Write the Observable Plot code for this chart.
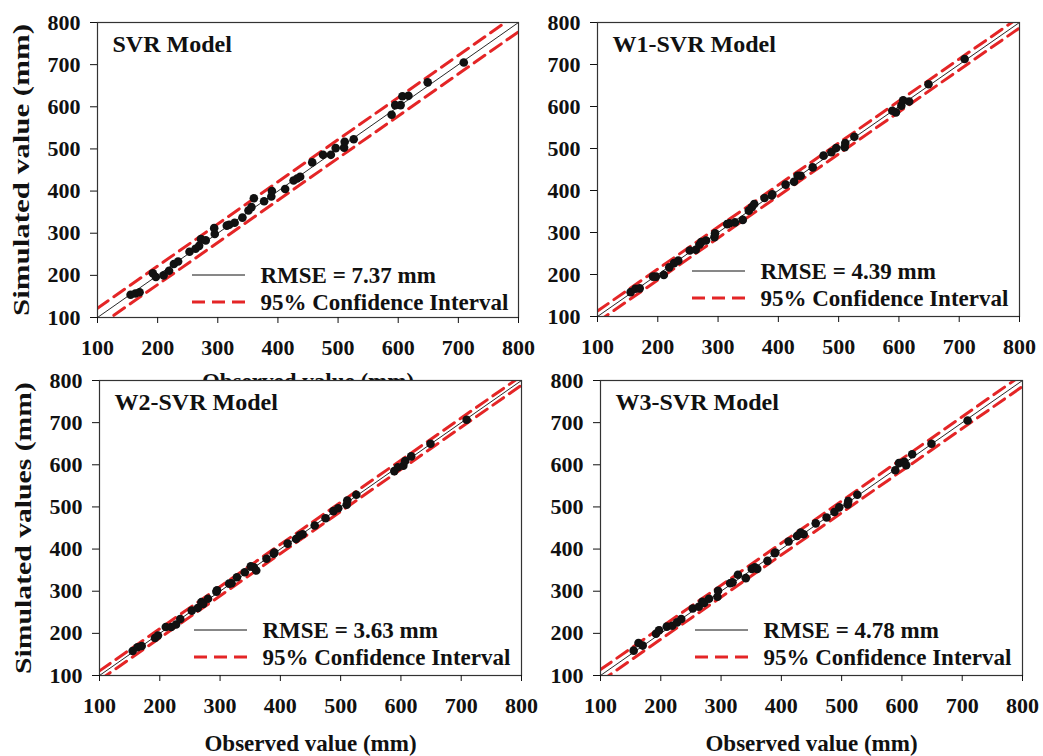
<!DOCTYPE html>
<html>
<head>
<meta charset="utf-8">
<script src="https://cdn.jsdelivr.net/npm/d3@7"></script>
<script src="https://cdn.jsdelivr.net/npm/@observablehq/plot@0.6"></script>
<style>
  html, body { margin: 0; padding: 0; background: white; }
  #chart { position: relative; width: 1043px; height: 756px; overflow: hidden; background: white; }
  #chart svg { position: absolute; overflow: visible; }
  #chart text { font-family: 'Liberation Serif', 'Times New Roman', serif; }
</style>
</head>
<body>
<div id="chart"></div>
<script>
// ---------------- data ----------------
const models = ["SVR Model", "W1-SVR Model", "W2-SVR Model", "W3-SVR Model"];
const rmse = [7.37, 4.39, 3.63, 4.78];
const ciHalfWidth = [22, 13, 11, 14];
const axisTicks = [100, 200, 300, 400, 500, 600, 700, 800];
const yTitles = ["Simulated value (mm)", null, "Simulated values (mm)", null];
const xTitle = "Observed value (mm)";
const legendLine = "RMSE = ";
const legendCI = "95% Confidence Interval";

const observed = [155,163,170,192,197,210,219,227,234,253,263,269,272,280,294,295,315,328,341,351,356,360,377,389,390,412,426,437,457,475,488,496,510,511,526,589,595,604,607,617,649,709,319,432];
const simSVR = [154,157,160,205,196,200,211,227,233,256,263,270,286,283,312,298,318,325,337,354,362,383,376,387,400,405,425,434,468,486,486,502,503,517,523,581,604,604,625,626,658,705,320,430];
const simW1  = [158,166,167,195,195,199,217,227,233,257,259,271,277,281,289,298,320,324,330,352,360,368,382,388,391,414,421,435,455,483,491,501,503,513,528,590,586,602,615,612,653,713,322,435];
const simW2  = [158,167,170,189,195,215,215,221,234,254,260,274,270,282,299,302,318,333,345,359,357,349,377,389,392,413,424,435,456,473,490,497,505,515,529,585,594,598,609,620,650,707,319,432];
const simW3  = [159,177,171,199,207,216,218,226,234,259,263,275,272,282,287,301,319,339,331,353,357,353,372,390,392,418,431,435,461,475,488,499,506,514,529,587,604,607,599,625,650,705,321,439];
const simulated = [simSVR, simW1, simW2, simW3];

// ---------------- layout ----------------
const layout = [
  {left: 0,   top: 0,   width: 521, height: 400, ml: 97, mr: 3,  mt: 22, mb: 83, shift: 3, hiddenX: true},
  {left: 521, top: 0,   width: 522, height: 400, ml: 76, mr: 24, mt: 22, mb: 84, shift: 0, hiddenX: false},
  {left: 0,   top: 360, width: 525, height: 396, ml: 99, mr: 4,  mt: 20, mb: 81, shift: 0, hiddenX: false},
  {left: 525, top: 360, width: 518, height: 396, ml: 75, mr: 21, mt: 20, mb: 81, shift: 0, hiddenX: false}
];
const RED = "#e42526";
const FONT = "'Liberation Serif', 'Times New Roman', serif";

const chart = document.getElementById("chart");

function stretch(svg, label, length) {
  svg.selectAll("text").filter(function () { return this.textContent === label; })
    .each(function () {
      const w = this.getComputedTextLength();
      if (!w) return;
      const t = this.getAttribute("transform") || "";
      this.setAttribute("transform", (t + " scale(" + (length / w) + ",1)").trim());
    });
}

models.forEach((name, i) => {
  const L = layout[i];
  const pts = observed.map((o, k) => ({obs: o, sim: simulated[i][k]}));
  const lineEnds = [axisTicks[0], axisTicks[axisTicks.length - 1]];
  const h = ciHalfWidth[i];
  const bottomPanel = i >= 2;
  const txt = {fontWeight: "bold", fontFamily: FONT, fill: "#111", lineAnchor: "middle"};

  const marks = [];
  if (bottomPanel) marks.push(Plot.frame({fill: "white", stroke: "none"}));
  marks.push(
    Plot.line(lineEnds, {x: d => d, y: d => d + h, stroke: RED, strokeWidth: 3, strokeDasharray: "13,7", clip: true}),
    Plot.line(lineEnds, {x: d => d, y: d => d - h, stroke: RED, strokeWidth: 3, strokeDasharray: "13,7", clip: true}),
    Plot.line(lineEnds, {x: d => d, y: d => d, stroke: "#111", strokeWidth: 0.9, clip: true}),
    Plot.dot(pts, {x: "obs", y: "sim", r: 4.3, fill: "#111", stroke: "none"}),
    Plot.frame({stroke: "#333", strokeWidth: 1.2}),
    Plot.axisX({ticks: axisTicks, tickSize: 6, tickPadding: 16, label: null, tickFormat: d => String(d), fontFamily: FONT}),
    Plot.axisY({ticks: axisTicks, tickSize: 7, tickPadding: 10, label: null, tickFormat: d => String(d), fontFamily: FONT}),
    Plot.text([name], {...txt, text: d => d, frameAnchor: "top-left", dx: 15, dy: 22, textAnchor: "start", fontSize: 24}),
    Plot.text([legendLine + rmse[i].toFixed(2) + " mm"], {...txt, text: d => d, frameAnchor: "bottom-left", dx: 163, dy: -45 + L.shift, textAnchor: "start", fontSize: 23}),
    Plot.text([legendCI], {...txt, text: d => d, frameAnchor: "bottom-left", dx: 163, dy: -18 + L.shift, textAnchor: "start", fontSize: 23})
  );
  if (yTitles[i]) {
    marks.push(Plot.text([yTitles[i]], {...txt, text: d => d, frameAnchor: "left", textAnchor: "middle", dx: -76, rotate: -90, fontSize: 23}));
  }
  if (bottomPanel || L.hiddenX) {
    marks.push(Plot.text([xTitle], {...txt, text: d => d, frameAnchor: "bottom", textAnchor: "middle", dy: bottomPanel ? 68 : 64, fontSize: 23}));
  }

  const plot = Plot.plot({
    width: L.width,
    height: L.height,
    marginLeft: L.ml, marginRight: L.mr, marginTop: L.mt, marginBottom: L.mb,
    x: {domain: lineEnds},
    y: {domain: lineEnds},
    style: {background: "transparent", fontFamily: FONT, fontSize: "22px", fontWeight: "bold", color: "#111", overflow: "visible"},
    marks
  });
  plot.style.left = L.left + "px";
  plot.style.top = L.top + "px";
  chart.appendChild(plot);

  const svg = d3.select(plot);
  if (yTitles[i]) stretch(svg, yTitles[i], 292);

  // legend keys
  const yb = L.height - L.mb;
  svg.append("line")
    .attr("x1", L.ml + 95).attr("x2", L.ml + 148)
    .attr("y1", yb - 45 + L.shift).attr("y2", yb - 45 + L.shift)
    .attr("stroke", "#111").attr("stroke-width", 1);
  svg.append("line")
    .attr("x1", L.ml + 95).attr("x2", L.ml + 148)
    .attr("y1", yb - 18 + L.shift).attr("y2", yb - 18 + L.shift)
    .attr("stroke", RED).attr("stroke-width", 3).attr("stroke-dasharray", "13,7");
});
</script>
</body>
</html>
